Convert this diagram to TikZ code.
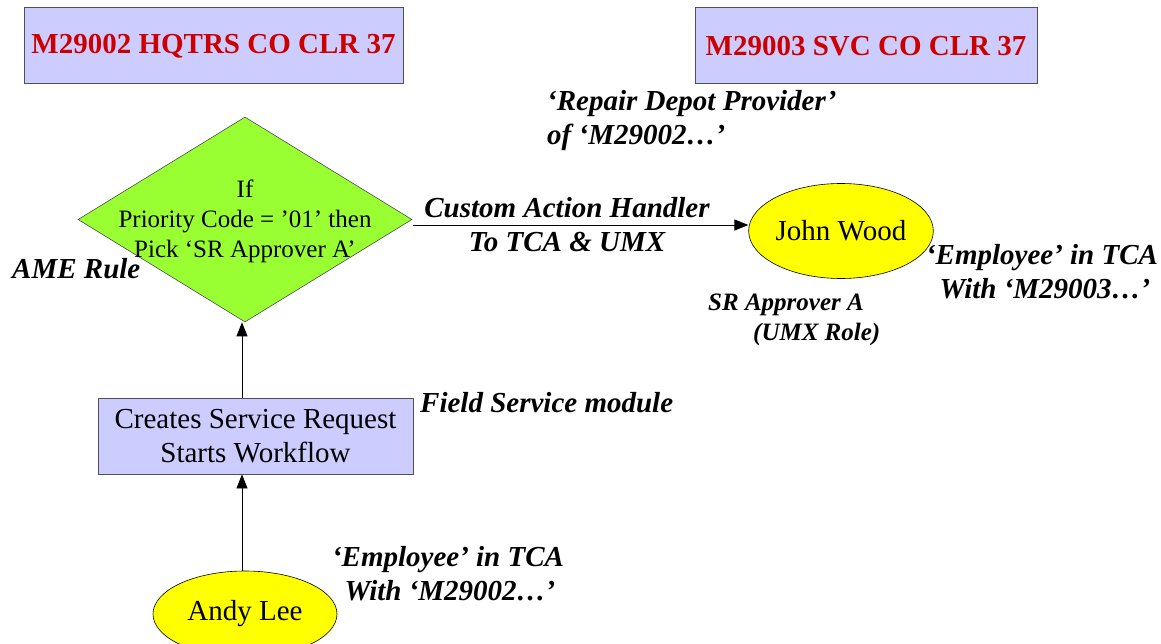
\documentclass[tikz,border=0pt]{standalone}
\usepackage{fontspec}
\setmainfont{Liberation Serif}
\usetikzlibrary{shapes.geometric,arrows.meta}
\definecolor{boxfill}{RGB}{204,204,255}
\definecolor{boxline}{RGB}{80,80,90}
\definecolor{titlered}{RGB}{204,0,0}
\definecolor{dgreen}{RGB}{153,255,51}
\definecolor{eyellow}{RGB}{255,255,0}
\tikzset{
  titlebox/.style={draw=boxline, line width=1pt, fill=boxfill, inner sep=0pt, minimum height=76pt,
    font=\fontsize{29}{34}\selectfont\bfseries, text=titlered},
  procbox/.style={draw=boxline, line width=0.8pt, fill=boxfill, inner sep=0pt, align=center,
    font=\fontsize{29}{34}\selectfont},
  person/.style={ellipse, draw=black, line width=0.6pt, fill=eyellow, inner sep=0pt,
    minimum width=184pt, font=\fontsize{29}{34}\selectfont},
  lbl/.style={inner sep=0pt, font=\fontsize{29}{34}\selectfont\bfseries\itshape},
  smalllbl/.style={inner sep=0pt, font=\fontsize{25}{30}\selectfont\bfseries\itshape},
  conn/.style={line width=0.8pt, -{Triangle[length=14pt,width=11pt]}}
}
\begin{document}
\begin{tikzpicture}[x=1pt,y=-1pt]
\useasboundingbox (0,0) rectangle (1161,644);
\fill[white] (0,0) rectangle (1161,644);
% title boxes
\node[titlebox, minimum width=379pt] (hq) at (213.5,46) {M29002 HQTRS CO CLR 37};
\node[titlebox, minimum width=342pt] (svc) at (866,46) {M29003 SVC CO CLR 37};
% diamond
\node[diamond, draw=black!70, line width=0.6pt, fill=dgreen, inner sep=0pt,
      minimum width=334pt, minimum height=205pt] (dia) at (245,219.5) {};
\node[inner sep=0pt, align=center, font=\fontsize{25}{30}\selectfont] (diatext) at (245,221)
  {If\\Priority Code = ’01’ then\\Pick ‘SR Approver A’};
\node[lbl, anchor=west] (ame) at (12,269) {AME Rule};
% John Wood
\node[person, minimum height=95pt] (jw) at (841,231) {John Wood};
\coordinate (a1) at (413,225);
\draw[conn] (a1) -- (a1 -| jw.west);
\node[lbl, align=center] (cah) at (567,225) {Custom Action Handler\\To TCA \& UMX};
\node[lbl, anchor=west, align=left] (rdp) at (547,121) {‘Repair Depot Provider’\\of ‘M29002…’};
\node[lbl, align=center] (emp2) at (1042,272) {‘Employee’ in TCA\\\hspace*{6pt}With ‘M29003…’};
\node[smalllbl, anchor=west, align=left] (sra) at (708,320) {SR Approver A\\\hspace*{45pt}(UMX Role)};
% creates box
\node[procbox, minimum width=315pt, minimum height=76pt] (cs) at (255.5,436)
  {Creates Service Request\\Starts Workflow};
\node[lbl, anchor=west] (fsm) at (420,403) {Field Service module};
% Andy Lee
\node[person, minimum height=86pt] (al) at (245,614) {Andy Lee};
\node[lbl, align=center] (emp1) at (448,574) {‘Employee’ in TCA\\\hspace*{4pt}With ‘M29002…’};
% vertical connectors
\coordinate (vx) at (242,0);
\draw[conn] (al.north -| vx) -- (cs.south -| vx);
\draw[conn] (cs.north -| vx) -- (dia.south -| vx);
\end{tikzpicture}
\end{document}
